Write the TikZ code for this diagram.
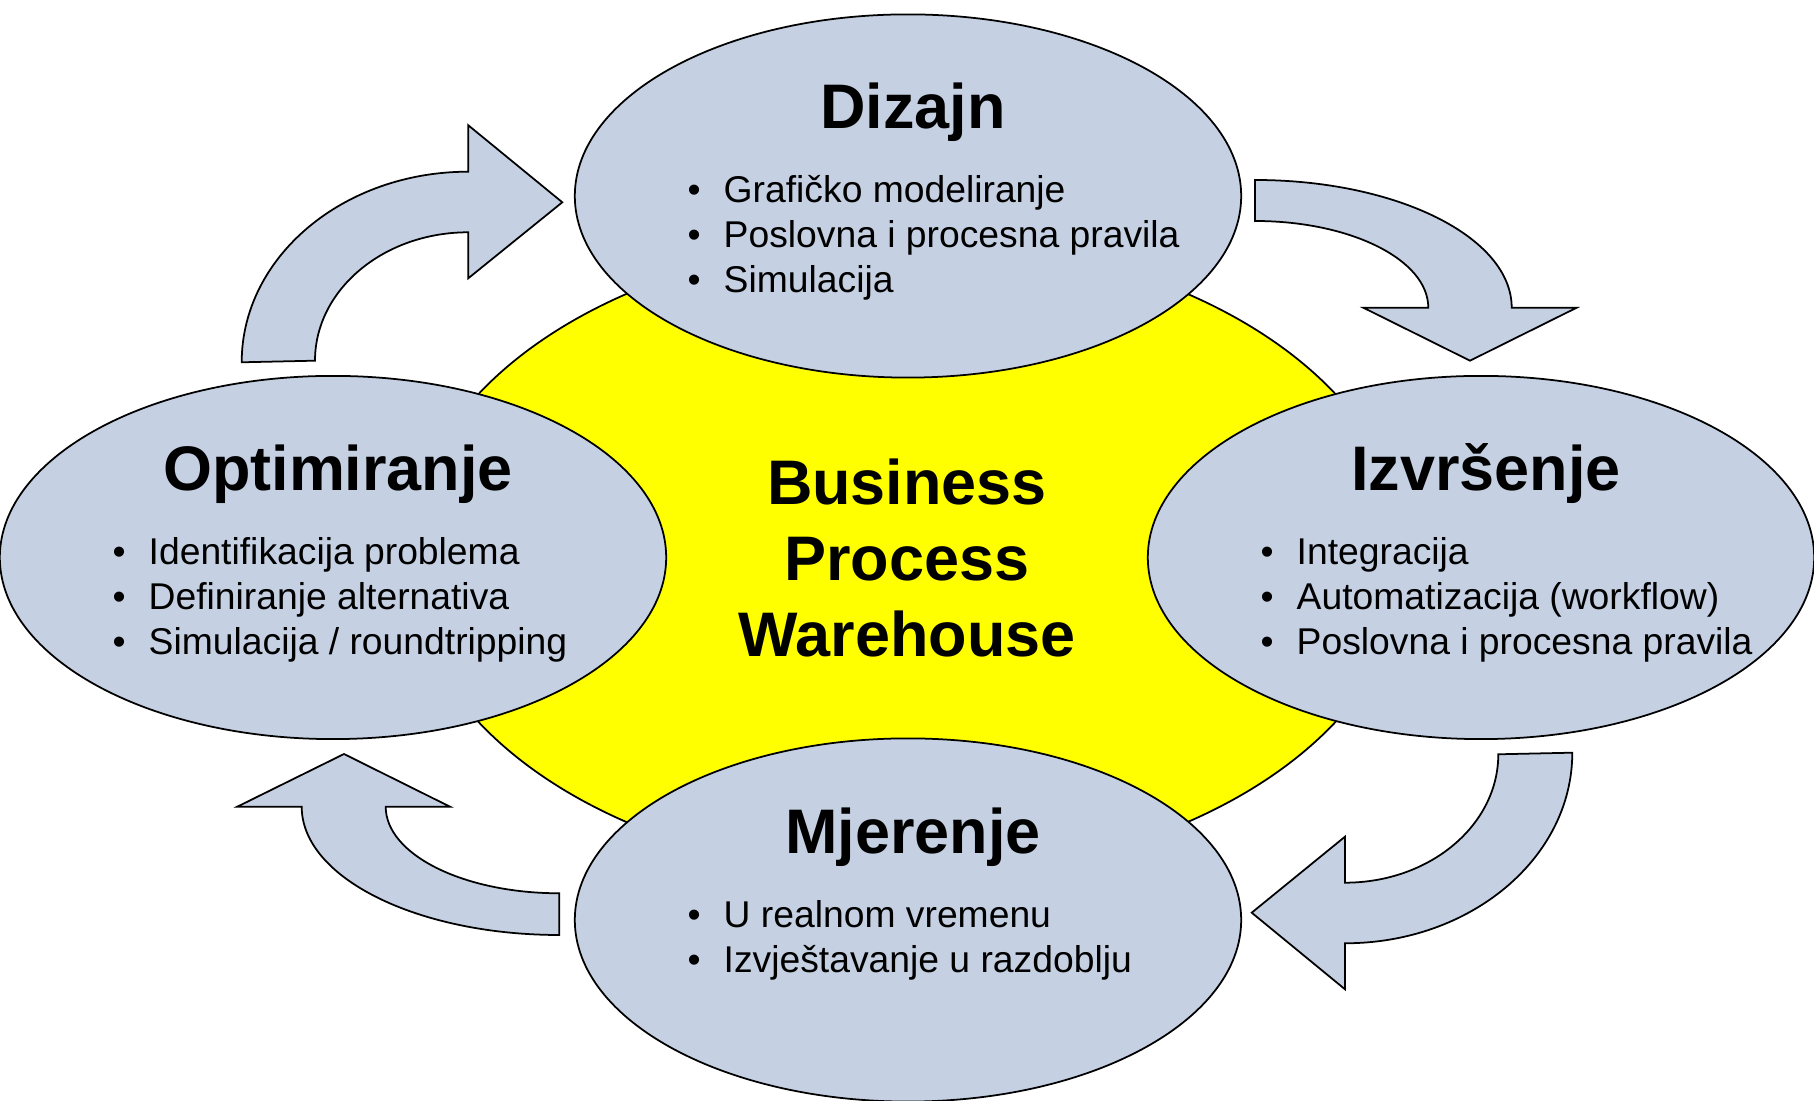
\documentclass[tikz,border=0pt]{standalone}
\usepackage{fontspec}
\setmainfont{Liberation Sans}
\usetikzlibrary{shapes.geometric}
\definecolor{bubble}{RGB}{197,209,227}
\definecolor{corefill}{RGB}{255,255,0}
\begin{document}
\begin{tikzpicture}[x=0.01cm,y=-0.01cm,
  outl/.style={draw=black,line width=0.5pt},
  phase/.style={outl,ellipse,fill=bubble,minimum width=6.66cm,minimum height=3.63cm,inner sep=0pt},
  hub/.style={outl,ellipse,fill=corefill,minimum width=9.98cm,minimum height=6.38cm,inner sep=0pt},
  bigarrow/.style={outl,fill=bubble,line join=miter},
  ttl/.style={font=\fontsize{17.9pt}{21.5pt}\selectfont\bfseries,anchor=base,inner sep=0pt},
  hubtext/.style={font=\fontsize{17.9pt}{21.6pt}\selectfont\bfseries,align=center,inner sep=0pt},
  itm/.style={font=\fontsize{10.6pt}{12.7pt}\selectfont,anchor=base west,inner sep=0pt},
]
\useasboundingbox (0,0) rectangle (1814,1101);

% central yellow ellipse
\node[hub] (core) at (907,558) {};

% curved block arrows
\path[bigarrow] (241.7,362.3) .. controls (241.7,257.0) and (343.1,171.7) .. (468.3,171.7)
  -- (468.3,125.3) -- (562.3,202.3) -- (468.3,278.3) -- (468.3,232.3)
  .. controls (383.6,232.3) and (315,289.8) .. (315,360.7) -- cycle;
\path[bigarrow] (1255,180) .. controls (1396.8,180) and (1511.7,237.2) .. (1511.7,307.7)
  -- (1576.7,307.7) -- (1470,360.7) -- (1363.3,307.7) -- (1428.3,307.7)
  .. controls (1428.3,259.8) and (1350.7,221) .. (1255,221) -- cycle;
\path[bigarrow] (1572.3,752.7) .. controls (1572.3,858.0) and (1470.5,943.3) .. (1345,943.3)
  -- (1345,989.3) -- (1251.7,912.7) -- (1345,836.7) -- (1345,882.7)
  .. controls (1429.7,882.7) and (1498.3,825.2) .. (1498.3,754.3) -- cycle;
\path[bigarrow] (559.3,935) .. controls (417.0,935) and (301.7,877.6) .. (301.7,806.7)
  -- (237.3,806.7) -- (344,754) -- (450,806.7) -- (385.7,806.7)
  .. controls (385.7,854.5) and (463.4,893.3) .. (559.3,893.3) -- cycle;

% phase ellipses
\node[phase] (diz) at (908,196) {};
\node[phase] (opt) at (333,557.5) {};
\node[phase] (izv) at (1481,557.5) {};
\node[phase] (mje) at (908,920) {};

% central text
\node[hubtext] (bpw) at (907,558) {Business\\Process\\Warehouse};

% Dizajn
\node[ttl] (dizT) at (913,129) {Dizajn};
\node[itm] (dizB1) at (687,203) {•};
\node[itm] (dizI1) at (723,203) {Grafičko modeliranje};
\node[itm] (dizB2) at (687,248) {•};
\node[itm] (dizI2) at (723,248) {Poslovna i procesna pravila};
\node[itm] (dizB3) at (687,293) {•};
\node[itm] (dizI3) at (723,293) {Simulacija};

% Optimiranje
\node[ttl] (optT) at (338,491) {Optimiranje};
\node[itm] (optB1) at (112,565) {•};
\node[itm] (optI1) at (148,565) {Identifikacija problema};
\node[itm] (optB2) at (112,610) {•};
\node[itm] (optI2) at (148,610) {Definiranje alternativa};
\node[itm] (optB3) at (112,655) {•};
\node[itm] (optI3) at (148,655) {Simulacija / roundtripping};

% Izvrsenje
\node[ttl] (izvT) at (1486,491) {Izvršenje};
\node[itm] (izvB1) at (1260,565) {•};
\node[itm] (izvI1) at (1296,565) {Integracija};
\node[itm] (izvB2) at (1260,610) {•};
\node[itm] (izvI2) at (1296,610) {Automatizacija (workflow)};
\node[itm] (izvB3) at (1260,655) {•};
\node[itm] (izvI3) at (1296,655) {Poslovna i procesna pravila};

% Mjerenje
\node[ttl] (mjeT) at (913,854) {Mjerenje};
\node[itm] (mjeB1) at (687,928) {•};
\node[itm] (mjeI1) at (723,928) {U realnom vremenu};
\node[itm] (mjeB2) at (687,973) {•};
\node[itm] (mjeI2) at (723,973) {Izvještavanje u razdoblju};
\end{tikzpicture}
\end{document}
